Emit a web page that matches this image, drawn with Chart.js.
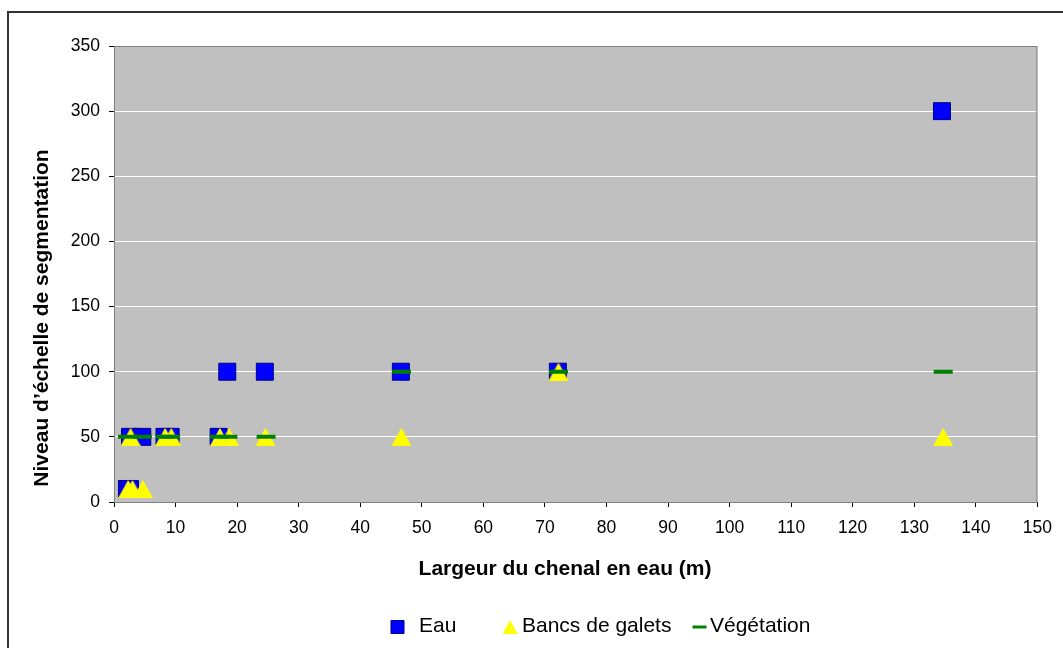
<!DOCTYPE html>
<html>
<head>
<meta charset="utf-8">
<script src="https://cdn.jsdelivr.net/npm/chart.js@4.4.0/dist/chart.umd.min.js"></script>
<style>
  body { margin: 0; background: #fff; }
</style>
</head>
<body>
<canvas id="myChart" width="1063" height="648"></canvas>
<script>
// values
var eauX = [2.1, 2.6, 2.6, 4.6, 8.2, 9.2, 17.0, 18.4, 24.5, 46.6, 72.1, 134.5];
var eauY = [10, 10, 50, 50, 50, 50, 50, 100, 100, 100, 100, 300];

var bancsX = [2.3, 3.0, 4.7, 2.7, 8.3, 9.3, 17.2, 18.7, 24.6, 46.7, 72.2, 134.7];
var bancsY = [10, 10, 10, 50, 50, 50, 50, 50, 50, 50, 100, 50];

var vegX = [2.2, 4.6, 8.3, 9.2, 17.1, 18.5, 24.7, 46.7, 72.2, 134.7];
var vegY = [50, 50, 50, 50, 50, 50, 50, 100, 100, 100];

var seriesNames = ['Eau', 'Bancs de galets', 'Végétation'];
var xTitle = 'Largeur du chenal en eau (m)';
var yTitle = 'Niveau d’échelle de segmentation';
var xMin = 0, xMax = 150, xStep = 10;
var yMin = 0, yMax = 350, yStep = 50;

var FONT = "'Liberation Sans', Arial, sans-serif";

function points(xs, ys) {
  return xs.map(function (x, i) { return { x: x, y: ys[i] }; });
}

// Excel-like triangle marker, centred on its bounding box
function triangleMarker(w, h, color) {
  var cv = document.createElement('canvas');
  cv.width = w;
  cv.height = h;
  var t = cv.getContext('2d');
  t.fillStyle = color;
  t.beginPath();
  t.moveTo(w / 2, 0);
  t.lineTo(w, h);
  t.lineTo(0, h);
  t.closePath();
  t.fill();
  return cv;
}

var triBig = triangleMarker(20, 18, '#FFFF00');
var triSmall = triangleMarker(15, 14, '#FFFF00');

var ctx = document.getElementById('myChart').getContext('2d');

var decor = {
  id: 'decor',
  beforeDraw: function (chart) {
    var c = chart.ctx, a = chart.chartArea;
    c.save();
    c.fillStyle = '#fff';
    c.fillRect(0, 0, chart.width, chart.height);
    // outer frame
    c.strokeStyle = '#333';
    c.lineWidth = 2;
    c.beginPath();
    c.moveTo(8, chart.height + 5);
    c.lineTo(8, 12);
    c.lineTo(chart.width + 5, 12);
    c.stroke();
    // plot area
    c.fillStyle = '#C0C0C0';
    c.fillRect(a.left, a.top, a.right - a.left, a.bottom - a.top);
    c.restore();
  },
  beforeDatasetsDraw: function (chart) {
    var c = chart.ctx, a = chart.chartArea;
    c.save();
    c.strokeStyle = '#808080';
    c.lineWidth = 1;
    c.strokeRect(a.left + 0.5, a.top + 0.5, a.right - a.left - 1, a.bottom - a.top);
    c.restore();
  },
  afterDraw: function (chart) {
    var c = chart.ctx;
    c.save();
    c.fillStyle = '#000';
    c.font = 'bold 21px ' + FONT;
    c.textAlign = 'center';
    c.textBaseline = 'middle';
    c.fillText(xTitle, 565, 569);
    c.translate(42, 318);
    c.rotate(-Math.PI / 2);
    c.fillText(yTitle, 0, 0);
    c.restore();

    // legend
    var marks = [
      { style: 'rect', radius: 9.2, fill: '#0000FF', stroke: '#000080', bw: 1, cx: 397.5, tx: 419 },
      { style: triSmall, radius: 8, fill: '#FFFF00', stroke: '#FFFF00', bw: 0, cx: 510, tx: 522 },
      { style: 'line', radius: 7, fill: '#008000', stroke: '#008000', bw: 3, cx: 699.5, tx: 710 }
    ];
    var ly = 626;
    c.save();
    c.font = '21px ' + FONT;
    c.textBaseline = 'middle';
    c.textAlign = 'left';
    marks.forEach(function (m, i) {
      c.fillStyle = m.fill;
      c.strokeStyle = m.stroke;
      c.lineWidth = m.bw;
      Chart.helpers.drawPoint(c, { pointStyle: m.style, radius: m.radius, rotation: 0, borderWidth: m.bw }, m.cx, ly + 1);
      c.fillStyle = '#000';
      c.fillText(seriesNames[i], m.tx, ly);
    });
    c.restore();
  }
};

var myChart = new Chart(ctx, {
  type: 'scatter',
  data: {
    datasets: [
      {
        label: seriesNames[0],
        data: points(eauX, eauY),
        pointStyle: 'rect',
        pointRadius: 12,
        pointBackgroundColor: '#0000FF',
        pointBorderColor: '#000080',
        pointBorderWidth: 1,
        order: 3
      },
      {
        label: seriesNames[1],
        data: points(bancsX, bancsY),
        pointStyle: triBig,
        pointRadius: 10,
        pointBackgroundColor: '#FFFF00',
        pointBorderColor: '#FFFF00',
        pointBorderWidth: 0,
        order: 2
      },
      {
        label: seriesNames[2],
        data: points(vegX, vegY),
        pointStyle: 'line',
        pointRadius: 9.5,
        pointBackgroundColor: '#008000',
        pointBorderColor: '#008000',
        pointBorderWidth: 4,
        order: 1
      }
    ]
  },
  options: {
    responsive: false,
    animation: false,
    events: [],
    layout: { padding: { left: 0, top: 46, right: 23, bottom: 106 } },
    plugins: {
      legend: { display: false },
      tooltip: { enabled: false }
    },
    scales: {
      x: {
        type: 'linear',
        min: xMin,
        max: xMax,
        ticks: { stepSize: xStep, color: '#000', font: { family: FONT, size: 17.5 }, padding: 11, maxRotation: 0, autoSkip: false },
        grid: { drawOnChartArea: false, tickColor: '#000', tickLength: 5 },
        border: { color: '#000', width: 1 },
        afterFit: function (s) { s.height = 40; }
      },
      y: {
        type: 'linear',
        min: yMin,
        max: yMax,
        ticks: { stepSize: yStep, color: '#000', font: { family: FONT, size: 17.5 }, padding: 9 },
        grid: { color: '#FFFFFF', lineWidth: 1, tickColor: '#000', tickLength: 5 },
        border: { color: '#000', width: 1 },
        afterFit: function (s) { s.width = 114; }
      }
    }
  },
  plugins: [decor]
});
</script>
</body>
</html>
